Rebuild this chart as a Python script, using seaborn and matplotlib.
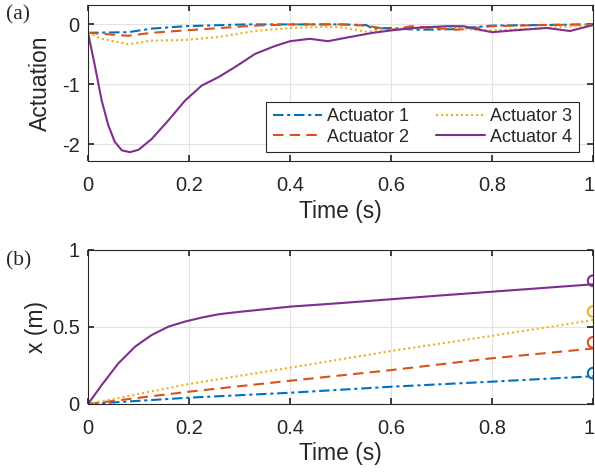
import matplotlib
matplotlib.use("Agg")
import matplotlib.pyplot as plt
import matplotlib.transforms as mtransforms
import pandas as pd
import seaborn as sns

COLORS = ["#0072BD", "#D95319", "#EDB120", "#7E2F8E"]
NAMES = ["Actuator 1", "Actuator 2", "Actuator 3", "Actuator 4"]
DASHES = [(5, 1.8, 1.5, 1.8), (5, 3), (1, 1.4), ""]

# (a) actuation signals
t_act1 = [0, 0.079, 0.126, 0.192, 0.31, 0.4, 0.5, 0.55, 0.564, 0.6, 0.65, 0.72, 0.8, 0.9, 1.0]
act1 = [-0.14, -0.13, -0.07, -0.03, 0.0, 0.0, 0.0, -0.01, -0.07, -0.06, -0.09, -0.08, -0.02, -0.01, 0.0]

t_act2 = [0, 0.079, 0.126, 0.192, 0.331, 0.4, 0.5, 0.55, 0.6, 0.64, 0.73, 0.8, 0.9, 1.0]
act2 = [-0.14, -0.19, -0.14, -0.10, -0.02, 0.0, 0.0, -0.02, -0.09, -0.03, -0.09, -0.03, -0.01, 0.0]

t_act3 = [0, 0.027, 0.079, 0.126, 0.192, 0.258, 0.331, 0.4, 0.47, 0.5, 0.55, 0.6, 0.7, 0.78, 0.8, 0.9, 1.0]
act3 = [-0.14, -0.24, -0.33, -0.27, -0.26, -0.21, -0.11, -0.06, -0.04, -0.05, -0.12, -0.09, -0.04, -0.10, -0.10, -0.06, -0.01]

t_act4 = [0, 0.014, 0.027, 0.04, 0.053, 0.067, 0.083, 0.1, 0.126, 0.159, 0.192, 0.225,
          0.258, 0.291, 0.331, 0.37, 0.4, 0.439, 0.475, 0.512, 0.564, 0.6, 0.644, 0.71,
          0.743, 0.776, 0.8, 0.842, 0.908, 0.954, 1.0]
act4 = [-0.14, -0.71, -1.27, -1.68, -1.96, -2.10, -2.13, -2.09, -1.91, -1.60, -1.27, -1.02,
        -0.88, -0.71, -0.49, -0.36, -0.28, -0.24, -0.28, -0.22, -0.14, -0.10, -0.06, -0.03,
        -0.03, -0.09, -0.13, -0.10, -0.06, -0.11, -0.01]

# (b) positions
t_pos = [0, 0.2, 0.4, 0.6, 0.8, 1.0]
pos1 = [0, 0.041, 0.073, 0.112, 0.145, 0.18]
pos2 = [0, 0.08, 0.151, 0.22, 0.297, 0.36]
pos3 = [0, 0.13, 0.236, 0.344, 0.443, 0.545]
t_pos4 = [0, 0.027, 0.06, 0.093, 0.126, 0.159, 0.192, 0.225, 0.258, 0.291, 0.35,
          0.4, 0.5, 0.6, 0.7, 0.8, 0.9, 1.0]
pos4 = [0, 0.123, 0.264, 0.372, 0.448, 0.502, 0.535, 0.561, 0.582, 0.595, 0.615,
        0.632, 0.655, 0.68, 0.705, 0.729, 0.753, 0.777]
targets = [0.2, 0.4, 0.6, 0.8]

sns.set_theme(style="whitegrid")
plt.rcParams["font.family"] = ["Liberation Sans", "DejaVu Sans"]

fig = plt.figure(figsize=(5.95, 4.74), dpi=100)
ax1 = fig.add_axes([0.148, 0.660, 0.849, 0.329])
ax2 = fig.add_axes([0.148, 0.1477, 0.849, 0.325])

act_series = [(t_act1, act1), (t_act2, act2), (t_act3, act3), (t_act4, act4)]
for (t, a), name, c, d in zip(act_series, NAMES, COLORS, DASHES):
    df = pd.DataFrame({"t": t, "a": a})
    line = sns.lineplot(data=df, x="t", y="a", ax=ax1, color=c, lw=1.5, label=name)
    if d:
        line.lines[-1].set_dashes(d)

pos_series = [(t_pos, pos1), (t_pos, pos2), (t_pos, pos3), (t_pos4, pos4)]
for (t, p), c, d, goal in zip(pos_series, COLORS, DASHES, targets):
    df = pd.DataFrame({"t": t, "p": p})
    line = sns.lineplot(data=df, x="t", y="p", ax=ax2, color=c, lw=1.5)
    if d:
        line.lines[-1].set_dashes(d)
    sns.scatterplot(x=[1.0], y=[goal], ax=ax2, marker="o", s=60,
                    facecolor="none", edgecolor=c, linewidth=1.5, zorder=5)

xt = [0, 0.2, 0.4, 0.6, 0.8, 1]
xtl = ["0", "0.2", "0.4", "0.6", "0.8", "1"]
shift = mtransforms.ScaledTranslation(-3 / 72, 0, fig.dpi_scale_trans)
for ax in (ax1, ax2):
    ax.set_xlim(0, 1)
    ax.set_xticks(xt)
    ax.set_xticklabels(xtl)
    ax.set_xlabel("Time (s)", fontsize=16.5, color="#262626", labelpad=3)
    ax.grid(True, color="#e3e3e3", lw=0.8)
    ax.tick_params(direction="in", length=4, labelsize=14.5, colors="#262626",
                   top=True, right=True, bottom=True, left=True)
    ax.tick_params(axis="x", pad=11)
    ax.tick_params(axis="y", pad=6)
    for sp in ax.spines.values():
        sp.set_color("#262626")
        sp.set_linewidth(0.8)
    last = ax.get_xticklabels()[-1]
    last.set_transform(last.get_transform() + shift)

ax1.set_ylim(-2.28, 0.32)
ax1.set_yticks([-2, -1, 0])
ax1.set_yticklabels(["-2", "-1", "0"])
ax1.set_ylabel("Actuation", fontsize=16.5, color="#262626", labelpad=7)

ax2.set_ylim(0, 1)
ax2.set_yticks([0, 0.5, 1])
ax2.set_yticklabels(["0", "0.5", "1"])
ax2.set_ylabel("x (m)", fontsize=16.5, color="#262626", labelpad=3)

leg = ax1.legend(loc="lower center", bbox_to_anchor=(0.662, 0.058), ncol=2,
                 fontsize=13, frameon=True, fancybox=False, framealpha=1,
                 edgecolor="#262626", handlelength=2.7, columnspacing=1.5,
                 handletextpad=0.3, borderpad=0.35, labelspacing=0.2,
                 borderaxespad=0)
leg.get_frame().set_linewidth(0.8)

fig.text(0.01, 0.988, "(a)", fontsize=15.5, family="Liberation Serif", va="top")
fig.text(0.01, 0.471, "(b)", fontsize=15.5, family="Liberation Serif", va="top")

fig.savefig("out.png", dpi=100)
